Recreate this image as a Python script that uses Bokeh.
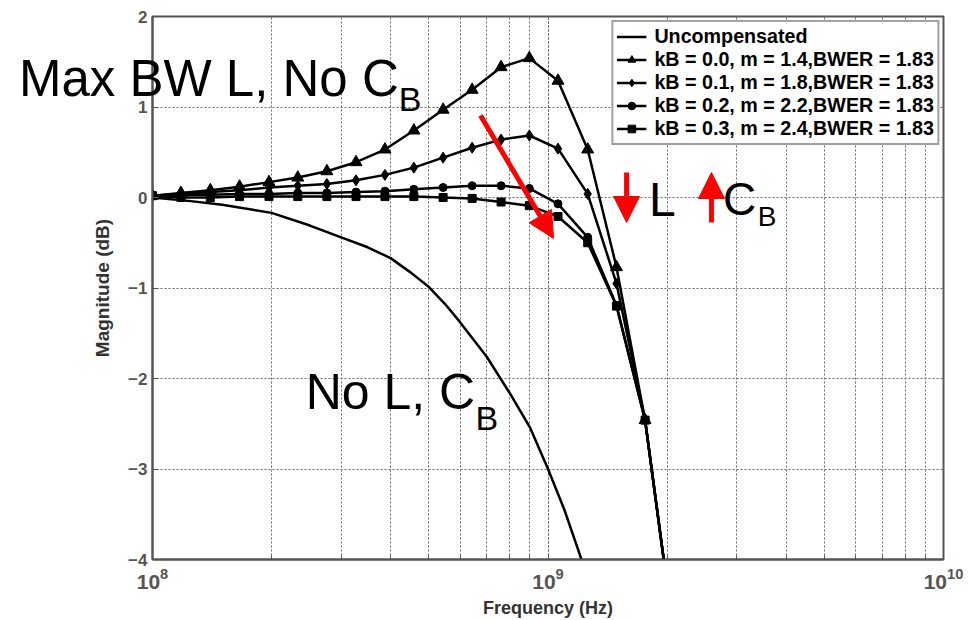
from bokeh.plotting import figure
from bokeh.layouts import column
from bokeh.models import Range1d, Label, Arrow, NormalHead, SingleIntervalTicker, Div
from bokeh.embed import file_html
from bokeh.resources import INLINE

# ---------------- data ----------------
freq = [1.00e8, 1.18e8, 1.40e8, 1.66e8, 1.97e8, 2.33e8, 2.76e8, 3.27e8, 3.87e8,
        4.58e8, 5.43e8, 6.43e8, 7.61e8, 8.97e8, 1.06e9, 1.26e9, 1.49e9, 1.76e9, 2.09e9]

kb00 = [0.02, 0.05, 0.08, 0.12, 0.17, 0.22, 0.29, 0.39, 0.53, 0.74, 0.97, 1.19,
        1.44, 1.54, 1.29, 0.53, -0.77, -2.46, -4.9]
kb01 = [0.02, 0.04, 0.06, 0.08, 0.11, 0.13, 0.15, 0.19, 0.25, 0.33, 0.44, 0.55,
        0.64, 0.685, 0.54, 0.04, -0.95, -2.46, -4.9]
kb02 = [0.02, 0.03, 0.03, 0.04, 0.04, 0.05, 0.05, 0.06, 0.07, 0.09, 0.11, 0.13,
        0.13, 0.10, -0.07, -0.44, -1.19, -2.46, -4.9]
kb03 = [0.02, 0.0, 0.0, 0.01, 0.01, 0.01, 0.01, 0.01, 0.01, 0.01, 0.0, -0.01,
        -0.05, -0.09, -0.21, -0.50, -1.20, -2.46, -4.9]

unc_freq = [1.0e8, 1.25e8, 1.5e8, 2.0e8, 2.5e8, 3.0e8, 3.5e8, 4.0e8, 4.5e8, 5.0e8,
            5.5e8, 6.0e8, 7.0e8, 8.0e8, 9.0e8, 1.0e9, 1.1e9, 1.2e9, 1.3e9]
unc = [0.0, -0.04, -0.08, -0.17, -0.31, -0.44, -0.55, -0.67, -0.83, -0.99,
       -1.18, -1.38, -1.76, -2.16, -2.54, -3.0, -3.45, -3.93, -4.4]

series_labels = ["kB = 0.0, m = 1.4,BWER = 1.83",
                 "kB = 0.1, m = 1.8,BWER = 1.83",
                 "kB = 0.2, m = 2.2,BWER = 1.83",
                 "kB = 0.3, m = 2.4,BWER = 1.83"]
series_values = [kb00, kb01, kb02, kb03]
series_markers = ["triangle", "diamond", "circle", "square"]
series_sizes = [12, 11, 8, 8]

x_label = "Frequency (Hz)"
y_label = "Magnitude (dB)"

# ---------------- figure ----------------
fig = figure(x_axis_type="log", frame_width=791, frame_height=543,
             min_border_left=152, min_border_right=20, min_border_top=16,
             min_border_bottom=50, output_backend="svg", toolbar_location=None,
             x_range=Range1d(1e8, 1e10), y_range=Range1d(-4, 2))
fig.background_fill_color = "white"
fig.border_fill_color = "white"
fig.outline_line_color = "#555555"
fig.outline_line_width = 2

fig.line(unc_freq, unc, line_color="black", line_width=2.5, legend_label="Uncompensated")
for vals, lab_, mk, sz in zip(series_values, series_labels, series_markers, series_sizes):
    fig.line(freq, vals, line_color="black", line_width=2.5, legend_label=lab_)
    fig.scatter(freq, vals, marker=mk, size=sz, fill_color="black", line_color="black",
                legend_label=lab_)

# axes
fig.yaxis.ticker = SingleIntervalTicker(interval=1, num_minor_ticks=0)
for ax in (fig.xaxis[0], fig.yaxis[0]):
    ax.axis_line_color = "#555555"
    ax.axis_line_width = 2
    ax.major_tick_line_color = "#555555"
    ax.minor_tick_line_color = "#555555"
    ax.major_tick_in = 6
    ax.major_tick_out = 0
    ax.minor_tick_in = 4
    ax.minor_tick_out = 0
    ax.major_label_text_font = "Liberation Sans"
    ax.major_label_text_font_style = "bold"
    ax.major_label_text_color = "#555555"
    ax.axis_label_text_font = "Liberation Sans"
    ax.axis_label_text_font_style = "bold"
    ax.axis_label_text_color = "#333333"
fig.yaxis.minor_tick_line_color = None
fig.xaxis.axis_label = x_label
fig.yaxis.axis_label = y_label
fig.xaxis.major_label_text_font_size = "21px"
fig.yaxis.major_label_text_font_size = "17px"
fig.xaxis.axis_label_text_font_size = "18px"
fig.yaxis.axis_label_text_font_size = "19px"
fig.xaxis.major_label_standoff = 8
fig.yaxis.major_label_standoff = 5
fig.xaxis.axis_label_standoff = 6
fig.yaxis.axis_label_standoff = 12

# grid
for g in (fig.xgrid[0], fig.ygrid[0]):
    g.grid_line_color = "#666666"
    g.grid_line_dash = "2 2"
    g.grid_line_width = 1
fig.xgrid.minor_grid_line_color = "#666666"
fig.xgrid.minor_grid_line_dash = "2 2"
fig.xgrid.minor_grid_line_width = 1

# legend
lg = fig.legend[0]
lg.location = "top_right"
lg.margin = 4
lg.padding = 3
lg.spacing = 0
lg.glyph_width = 30
lg.glyph_height = 19
lg.label_height = 19
lg.label_standoff = 8
lg.label_text_font = "Liberation Sans"
lg.label_text_font_style = "bold"
lg.label_text_font_size = "19.7px"
lg.label_text_color = "black"
lg.border_line_color = "#444444"
lg.border_line_width = 2
lg.background_fill_alpha = 1.0

# annotations inside the frame
big_font = "Liberation Sans"
def lab(x, y, text, size):
    fig.add_layout(Label(x=x, y=y, text=text, text_font=big_font, text_font_size=size,
                         text_color="black", text_baseline="alphabetic"))

lab(2.44e8, -2.15, "No L, C", "50px")
lab(6.56e8, -2.44, "B", "34px")
lab(1.80e9, -0.022, "L", "48px")
lab(2.77e9, -0.022, "C", "46px")
lab(3.39e9, -0.21, "B", "28px")

fig.add_layout(Arrow(x_start=6.75e8, y_start=0.906, x_end=1.033e9, y_end=-0.453,
                     line_color="red", line_width=5,
                     end=NormalHead(size=26, fill_color="red", line_color="red")))
fig.add_layout(Arrow(x_start=1.58e9, y_start=0.276, x_end=1.58e9, y_end=-0.276,
                     line_color="red", line_width=5,
                     end=NormalHead(size=26, fill_color="red", line_color="red")))
fig.add_layout(Arrow(x_start=2.59e9, y_start=-0.276, x_end=2.59e9, y_end=0.276,
                     line_color="red", line_width=5,
                     end=NormalHead(size=26, fill_color="red", line_color="red")))

# note that extends left of the frame (annotations are clipped to the frame),
# so it is laid over the figure as positioned text
note = Div(text='Max BW L, No C<span style="font-size:34px;vertical-align:-15px">B</span>',
           width=430, height=60,
           styles={"position": "absolute", "left": "14px", "top": "48px",
                   "z-index": "10", "font-family": "Liberation Sans",
                   "font-size": "51px", "line-height": "1", "color": "black",
                   "white-space": "nowrap", "pointer-events": "none"})

p = column(fig, note)

open("out.html", "w").write(file_html(p, INLINE))
